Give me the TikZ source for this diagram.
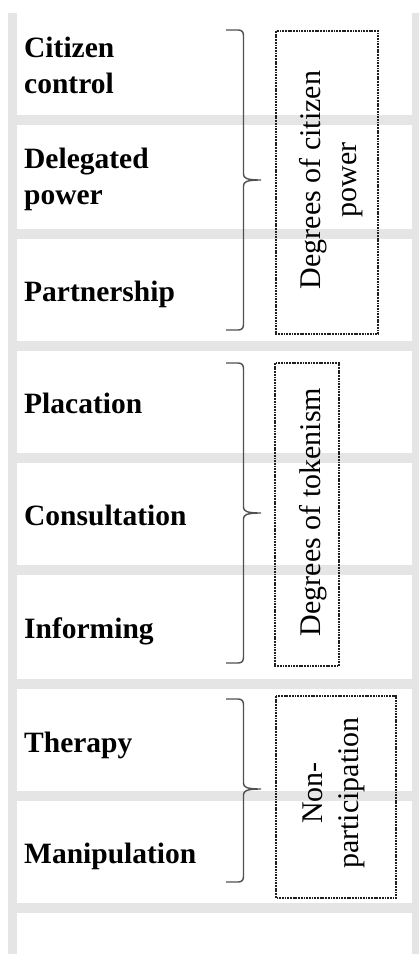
\documentclass[tikz,border=0pt]{standalone}
\usepackage{fontspec}
\setmainfont{Liberation Serif}
\begin{document}
\begin{tikzpicture}[x=1pt,y=-1pt,
  rail/.style={fill=railgray,draw=none},
  rungname/.style={font=\fontsize{29.5}{36}\selectfont\bfseries,anchor=base west,inner sep=0pt,align=left},
  groupbox/.style={draw=boxline,line width=1.1pt,dash pattern=on 1.8pt off 0.9pt,rotate=90,inner sep=0pt},
  grouplabel/.style={font=\fontsize{30}{36}\selectfont,rotate=90,anchor=base,inner sep=0pt,align=center},
  bracket/.style={draw=braceline,line width=1.4pt}]
\definecolor{railgray}{HTML}{E5E5E5}
\definecolor{boxline}{HTML}{202020}
\definecolor{braceline}{HTML}{505050}
\useasboundingbox (0,0) rectangle (419,954);
\fill[white] (0,0) rectangle (419,954);
% ladder rails
\fill[rail] (8,13) rectangle (17,954);
\fill[rail] (412,13) rectangle (419,954);
% ladder rungs
\foreach \r in {115,229,341,453,565,679,791,903}
  \fill[rail] (8,\r) rectangle (419,\r+10);
% rung names (multi-line nodes are placed by their last baseline)
\node[rungname] (n8) at (24,93)  {Citizen\\control};
\node[rungname] (n7) at (24,204) {Delegated\\power};
\node[rungname] (n6) at (24,301) {Partnership};
\node[rungname] (n5) at (24,413) {Placation};
\node[rungname] (n4) at (24,525) {Consultation};
\node[rungname] (n3) at (24,638) {Informing};
\node[rungname] (n2) at (24,752) {Therapy};
\node[rungname] (n1) at (24,863) {Manipulation};
% right curly brackets: top, tip, bottom
\newcommand\rungbracket[3]{%
  \draw[bracket] (226,#1) -- (238,#1)
    .. controls (242,#1) and (243.5,#1+2) .. (243.5,#1+6)
    -- (243.5,#2-6)
    .. controls (243.5,#2-2) and (246,#2) .. (261,#2)
    .. controls (246,#2) and (243.5,#2+2) .. (243.5,#2+6)
    -- (243.5,#3-6)
    .. controls (243.5,#3-2) and (242,#3) .. (238,#3) -- (226,#3);}
\rungbracket{30}{180}{330}
\rungbracket{363}{513}{663}
\rungbracket{699}{789}{882}
% group boxes
\node[groupbox,minimum width=303pt,minimum height=102pt] (g1) at (327,182.5) {};
\node[groupbox,minimum width=303pt,minimum height=64pt]  (g2) at (307,514.5) {};
\node[groupbox,minimum width=202pt,minimum height=120pt] (g3) at (336,797) {};
% group labels
\node[grouplabel] (l1) at (356,180) {Degrees of citizen\\power};
\node[grouplabel] (l2) at (320.5,512) {Degrees of tokenism};
\node[grouplabel] (l3) at (358,793) {Non-\\participation};
\end{tikzpicture}
\end{document}
